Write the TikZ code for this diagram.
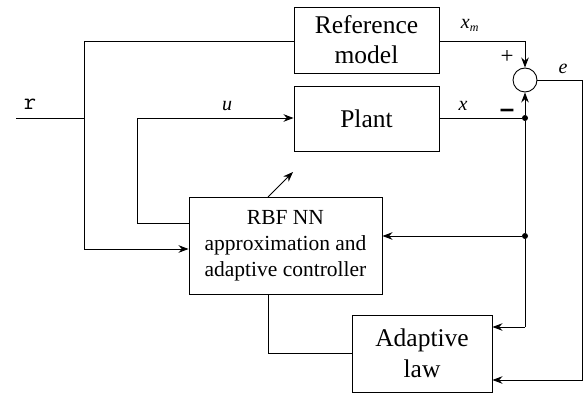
\documentclass[tikz,border=0pt]{standalone}
\usepackage{fontspec}
\setmainfont{Liberation Serif}
\newfontfamily\sansb{Liberation Sans}
\usetikzlibrary{arrows.meta}
\begin{document}
\begin{tikzpicture}[x=1pt,y=-1pt,
  blk/.style={draw,line width=0.9pt,rectangle,inner sep=0pt,align=center},
  wire/.style={line width=0.9pt},
  arr/.style={wire,-{Stealth[length=10pt,width=7.5pt]}},
  lbl/.style={inner sep=0pt,font=\fontsize{20}{22}\selectfont\itshape},
  dot/.style={circle,fill,inner sep=0pt,minimum size=6pt}]
\useasboundingbox (0,0) rectangle (583,395);
\node[blk,minimum width=145pt,minimum height=66pt,font=\fontsize{25.5}{30}\selectfont] (ref) at (366.5,40) {Reference\\model};
\node[blk,minimum width=145pt,minimum height=65pt,font=\fontsize{25.5}{30}\selectfont] (plant) at (366.5,118.5) {Plant};
\node[blk,minimum width=193pt,minimum height=97pt,font=\fontsize{21.5}{26}\selectfont] (rbf) at (285.5,245.5) {RBF NN\\approximation and\\adaptive controller};
\node[blk,minimum width=140pt,minimum height=77pt,font=\fontsize{25.5}{31}\selectfont] (adapt) at (422,353.5) {Adaptive\\law};
\node[draw,line width=0.9pt,circle,inner sep=0pt,minimum size=24pt] (sum) at (525,80) {};
\node[dot] (d1) at (525,118) {};
\node[dot] (d2) at (525,236) {};
% coordinates
\coordinate (rin) at (16,118);
\coordinate (rj) at (84,118);
\coordinate (rt) at (84,41);
\coordinate (rb) at (84,249);
\coordinate (ul) at (137,118);
\coordinate (ub) at (137,223);
\coordinate (xm) at (525,41);
\coordinate (eo) at (582,80);
\coordinate (eb) at (582,380);
\coordinate (ab) at (525,327);
\coordinate (cb) at (268,353);
\coordinate (ds) at (268,197);
\coordinate (de) at (293,172);
% wires
\draw[wire] (rin) -- (rj);
\draw[arr] (ref.west |- rt) -- (rt) -- (rb) -- (rbf.west |- rb);
\draw[arr] (rbf.west |- ub) -- (ub) -- (ul) -- (plant.west |- ul);
\draw[arr] (ref.east |- xm) -- (xm) -- (sum.north);
\draw[wire] (plant.east |- d1) -- (d1);
\draw[arr] (d1) -- (sum.south);
\draw[wire] (d1) -- (d2) -- (ab);
\draw[arr] (ab) -- (adapt.east |- ab);
\draw[arr] (d2) -- (rbf.east |- d2);
\draw[arr] (sum.east) -- (eo) -- (eb) -- (adapt.east |- eb);
\draw[wire] (rbf.south -| cb) -- (cb) -- (adapt.west |- cb);
\draw[arr,line width=0.8pt] (ds) -- (de);
% labels
\node[inner sep=0pt,font=\fontsize{24}{24}\ttfamily] (rl) at (30,104) {r};
\node[lbl] (ulab) at (227,106) {u};
\node[lbl] (xlab) at (463,106) {x};
\node[lbl] (xmlab) at (470,25) {x\textsubscript{\fontsize{12}{12}\selectfont m}};
\node[lbl] (elab) at (563,69) {e};
\node[inner sep=0pt,font=\fontsize{23}{23}\selectfont] (plus) at (507,57) {+};
\node[inner sep=0pt,font=\fontsize{26}{26}\sansb\bfseries] (minus) at (507,113) {–};
\end{tikzpicture}
\end{document}
